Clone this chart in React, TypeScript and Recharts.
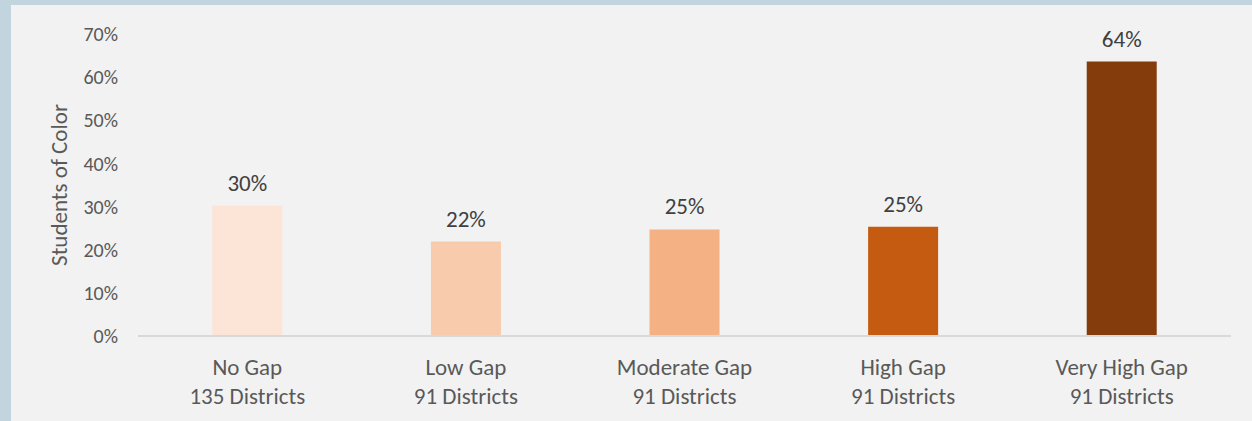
import React from 'react';
import { BarChart, Bar, XAxis, YAxis, LabelList, Cell } from 'recharts';

// ─── Data ─────────────────────────────────────────────────────────────────────

const gapLevels = ['No Gap', 'Low Gap', 'Moderate Gap', 'High Gap', 'Very High Gap'];
const districtCounts = ['135 Districts', '91 Districts', '91 Districts', '91 Districts', '91 Districts'];
const studentsOfColor = [30.2, 21.9, 24.7, 25.3, 63.6];
const valueLabels = ['30%', '22%', '25%', '25%', '64%'];
const barColors = ['#FCE4D6', '#F8CBAD', '#F4B183', '#C55A11', '#843C0C'];
const yTicks = [0, 10, 20, 30, 40, 50, 60, 70];

const FONT = 'Carlito, Lato, "Open Sans", sans-serif';

const chartData = gapLevels.map((g, i) => ({
  name: g,
  sub: districtCounts[i],
  value: studentsOfColor[i],
  label: valueLabels[i],
}));

// ─── Ticks ────────────────────────────────────────────────────────────────────

function CategoryTick({ x, y, payload, index }: any) {
  return (
    <text x={x} y={y} textAnchor="middle" fill="#595959" fontSize={23} fontFamily={FONT}>
      <tspan x={x} dy={31}>{payload.value}</tspan>
      <tspan x={x} dy={29}>{districtCounts[index]}</tspan>
    </text>
  );
}

function YTitle({ viewBox }: any) {
  const cy = viewBox.y + viewBox.height / 2;
  return (
    <text
      x={48}
      y={cy}
      transform={`rotate(-90, 48, ${cy})`}
      textAnchor="middle"
      dominantBaseline="central"
      fill="#595959"
      fontSize={23}
      fontFamily={FONT}
    >
      Students of Color
    </text>
  );
}

// ─── App ──────────────────────────────────────────────────────────────────────

export default function App() {
  return (
    <div
      style={{
        position: 'fixed',
        left: 0,
        top: 0,
        width: 1252,
        height: 421,
        background: '#C2D5DE',
        overflow: 'hidden',
      }}
    >
      <div
        style={{
          position: 'absolute',
          left: 11,
          top: 5,
          width: 1241,
          height: 416,
          background: '#F2F2F2',
        }}
      >
        <BarChart
          width={1241}
          height={416}
          data={chartData}
          margin={{ top: 29, right: 21, left: 0, bottom: 0 }}
          barCategoryGap="34%"
        >
          <XAxis
            dataKey="name"
            height={85}
            tickLine={false}
            axisLine={{ stroke: '#D9D9D9', strokeWidth: 2 }}
            tick={<CategoryTick />}
            interval={0}
          />
          <YAxis
            width={127}
            domain={[0, 70]}
            ticks={yTicks}
            tickFormatter={(v: number) => `${v}%`}
            axisLine={false}
            tickLine={false}
            tickSize={0}
            tickMargin={20}
            tick={{ fill: '#595959', fontSize: 20, fontFamily: FONT }}
            label={{ content: <YTitle /> }}
          />
          <Bar dataKey="value" isAnimationActive={false}>
            {chartData.map((d, i) => (
              <Cell key={d.name} fill={barColors[i]} />
            ))}
            <LabelList
              dataKey="label"
              position="top"
              offset={15}
              fill="#404040"
              fontSize={23}
              fontFamily={FONT}
            />
          </Bar>
        </BarChart>
      </div>
    </div>
  );
}
